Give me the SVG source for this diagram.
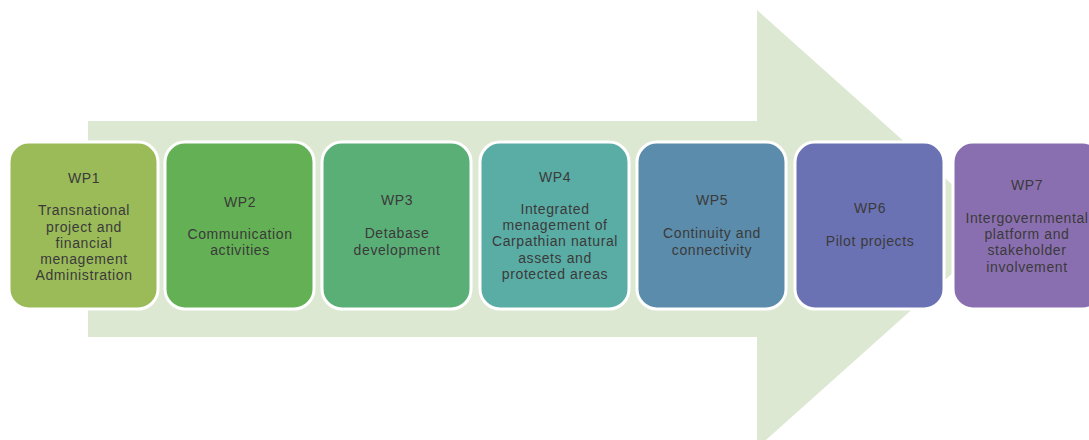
<svg xmlns="http://www.w3.org/2000/svg" width="1089" height="440" viewBox="0 0 1089 440">
<style>
.box{stroke:#ffffff;stroke-width:3}
.t{font-family:"Liberation Sans",Arial,sans-serif;font-size:14px;fill:#3a3a3a;text-anchor:middle;letter-spacing:0.6px}
</style>
<rect width="1089" height="440" fill="#ffffff"/>
<g id="arrow">
<polygon points="88,121 757,121 757,10 1002,229 757,448 757,337 88,337" fill="#dde8d2"/>
</g>
<g id="connectors"></g>
<g id="wp1">
<rect class="box" x="9" y="142" width="149" height="167" rx="20" fill="#9bbb59"/>
<text class="t" x="84" y="183">WP1</text>
<text class="t" x="84" y="215">Transnational</text>
<text class="t" x="84" y="232">project and</text>
<text class="t" x="84" y="248">financial</text>
<text class="t" x="84" y="264">menagement</text>
<text class="t" x="84" y="280">Administration</text>
</g>
<g id="wp2">
<rect class="box" x="165" y="142" width="149" height="167" rx="20" fill="#63b154"/>
<text class="t" x="240" y="207">WP2</text>
<text class="t" x="240" y="239">Communication</text>
<text class="t" x="240" y="255">activities</text>
</g>
<g id="wp3">
<rect class="box" x="322" y="142" width="149" height="167" rx="20" fill="#5aaf77"/>
<text class="t" x="397" y="205">WP3</text>
<text class="t" x="397" y="238">Detabase</text>
<text class="t" x="397" y="255">development</text>
</g>
<g id="wp4">
<rect class="box" x="480" y="142" width="149" height="167" rx="20" fill="#5aada5"/>
<text class="t" x="555" y="182">WP4</text>
<text class="t" x="555" y="214">Integrated</text>
<text class="t" x="555" y="230">menagement of</text>
<text class="t" x="555" y="246">Carpathian natural</text>
<text class="t" x="555" y="263">assets and</text>
<text class="t" x="555" y="279">protected areas</text>
</g>
<g id="wp5">
<rect class="box" x="637" y="142" width="149" height="167" rx="20" fill="#5b8cab"/>
<text class="t" x="712" y="205">WP5</text>
<text class="t" x="712" y="238">Continuity and</text>
<text class="t" x="712" y="255">connectivity</text>
</g>
<g id="wp6">
<rect class="box" x="795" y="142" width="149" height="167" rx="20" fill="#6b72b3"/>
<text class="t" x="870" y="213">WP6</text>
<text class="t" x="870" y="246">Pilot projects</text>
</g>
<g id="wp7">
<rect class="box" x="953" y="142" width="149" height="167" rx="20" fill="#8a6fb0"/>
<text class="t" x="1027" y="190">WP7</text>
<text class="t" x="1027" y="223">Intergovernmental</text>
<text class="t" x="1027" y="239">platform and</text>
<text class="t" x="1027" y="255">stakeholder</text>
<text class="t" x="1027" y="272">involvement</text>
</g>
</svg>
